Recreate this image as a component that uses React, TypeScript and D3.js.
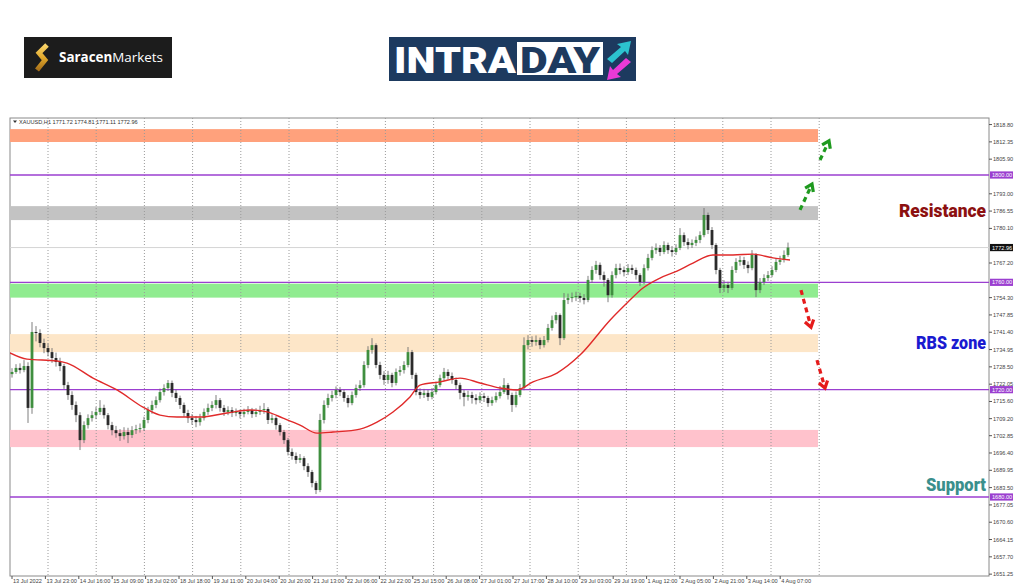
import React from 'react';
import * as d3 from 'd3';

// ---------- DATA ----------
const firstOpen = 1725.8;
const closes = [
  1726.6,1728.1,1727.3,1728.8,1713.2,1741.5,1741.1,1737.4,1735.5,1734.0,
  1731.8,1730.3,1728.8,1721.7,1718.0,1714.3,1710.5,1701.2,1706.8,1709.4,
  1710.5,1711.7,1713.2,1710.5,1706.8,1704.9,1703.8,1702.7,1704.2,1703.1,
  1704.9,1705.3,1705.7,1708.7,1712.4,1714.3,1716.1,1719.1,1720.6,1722.5,
  1718.8,1716.9,1714.3,1711.3,1709.4,1708.7,1707.9,1709.4,1711.7,1713.2,
  1714.3,1716.1,1713.2,1711.7,1712.4,1711.3,1711.7,1710.9,1711.7,1712.4,
  1710.9,1711.7,1712.4,1712.8,1708.7,1709.4,1706.8,1704.2,1701.2,1696.8,
  1695.3,1693.8,1694.5,1691.5,1689.3,1685.2,1682.6,1708.7,1714.3,1716.9,
  1718.0,1719.9,1719.1,1716.9,1715.0,1718.0,1720.6,1721.7,1729.2,1734.8,
  1736.6,1729.2,1725.5,1723.6,1725.5,1722.5,1726.6,1727.3,1729.2,1734.0,
  1725.5,1719.1,1718.0,1718.8,1717.3,1719.1,1721.7,1724.3,1726.6,1725.1,
  1723.6,1721.7,1718.8,1717.3,1718.0,1716.9,1716.1,1717.6,1716.9,1715.0,
  1716.1,1717.6,1719.1,1721.7,1718.0,1714.3,1718.0,1720.6,1736.6,1738.5,
  1737.8,1738.5,1736.6,1738.5,1743.0,1745.9,1747.8,1739.2,1753.4,1754.2,
  1754.5,1754.9,1754.2,1753.4,1760.9,1764.6,1766.5,1762.7,1760.9,1755.2,
  1762.7,1765.3,1764.6,1763.8,1765.3,1764.6,1762.7,1760.1,1765.3,1769.1,
  1772.0,1772.8,1771.3,1773.9,1772.0,1771.3,1772.8,1777.6,1775.0,1773.9,
  1774.7,1775.8,1777.6,1785.1,1779.5,1773.9,1764.6,1757.9,1759.0,1757.9,
  1764.6,1767.6,1768.3,1766.5,1765.3,1770.2,1757.1,1760.1,1761.6,1762.7,
  1764.6,1767.6,1768.3,1770.2,1772.96,
];
const highs = [
  1728.0,1729.5,1729.8,1731.0,1730.2,1745.2,1743.7,1742.5,1739.0,1737.2,
  1735.5,1733.8,1731.9,1729.6,1722.9,1719.4,1715.6,1711.6,1708.2,1710.8,
  1712.0,1713.5,1716.1,1714.4,1711.3,1708.0,1706.5,1705.3,1706.0,1705.8,
  1706.4,1706.9,1707.4,1709.9,1713.6,1715.9,1717.5,1720.4,1722.0,1723.6,
  1723.4,1720.0,1717.8,1715.2,1712.5,1710.9,1710.2,1711.0,1713.0,1714.8,
  1715.7,1718.0,1716.9,1714.3,1713.8,1713.5,1713.0,1712.6,1712.9,1713.9,
  1713.2,1713.1,1714.0,1715.0,1713.5,1710.8,1710.1,1707.6,1705.0,1702.0,
  1698.1,1696.6,1696.0,1695.2,1692.6,1690.1,1686.0,1711.0,1716.0,1718.5,
  1719.6,1721.2,1721.0,1720.0,1718.0,1719.3,1721.9,1723.5,1730.6,1736.2,
  1739.2,1737.3,1730.4,1726.9,1727.0,1726.3,1727.9,1728.8,1730.6,1735.9,
  1734.8,1726.3,1720.5,1720.3,1719.9,1720.6,1723.0,1725.6,1728.1,1727.6,
  1726.4,1724.5,1722.6,1719.9,1719.6,1719.2,1718.3,1719.0,1718.8,1717.7,
  1717.4,1719.0,1721.4,1724.3,1722.5,1718.9,1719.3,1722.1,1739.5,1740.3,
  1739.9,1740.2,1739.4,1740.0,1744.5,1747.6,1748.9,1748.4,1756.0,1755.8,
  1756.2,1756.5,1756.1,1755.6,1762.4,1766.0,1768.0,1767.4,1764.0,1761.6,
  1764.1,1766.9,1767.0,1765.9,1766.8,1766.6,1765.5,1763.4,1766.7,1770.6,
  1773.4,1774.5,1773.9,1775.3,1774.8,1773.5,1774.2,1780.2,1778.6,1776.4,
  1776.0,1777.1,1779.0,1787.7,1786.0,1780.6,1774.6,1765.4,1760.8,1760.2,
  1766.0,1769.0,1769.8,1769.5,1767.8,1772.0,1770.9,1761.6,1763.0,1764.2,
  1766.0,1769.0,1769.9,1771.9,1774.81,
];
const lows = [
  1724.5,1725.9,1726.0,1726.5,1707.6,1711.0,1738.0,1735.8,1733.6,1732.4,
  1730.0,1728.6,1726.9,1720.3,1716.2,1712.5,1707.9,1697.5,1700.1,1705.5,
  1708.1,1709.0,1710.6,1709.2,1705.2,1703.0,1702.1,1700.9,1701.4,1700.1,
  1702.0,1703.5,1704.0,1704.6,1707.5,1711.0,1713.1,1715.2,1717.8,1719.5,
  1717.2,1715.4,1712.8,1709.9,1707.6,1706.9,1706.0,1706.6,1708.5,1710.6,
  1712.0,1713.0,1711.8,1710.2,1710.5,1709.8,1710.1,1709.3,1709.7,1710.8,
  1709.5,1709.8,1710.6,1711.0,1707.2,1707.5,1705.1,1702.9,1699.8,1695.5,
  1693.9,1692.4,1692.7,1690.0,1687.5,1683.6,1681.1,1681.8,1707.4,1713.2,
  1715.6,1716.8,1717.6,1715.5,1713.4,1714.2,1717.0,1719.5,1720.8,1728.0,
  1733.4,1728.0,1723.9,1721.8,1722.2,1720.9,1721.6,1725.2,1726.0,1728.3,
  1724.0,1717.9,1716.6,1716.9,1715.8,1716.4,1718.2,1720.9,1723.5,1723.8,
  1722.2,1720.1,1716.4,1713.8,1715.9,1714.8,1714.5,1715.0,1715.4,1713.6,
  1714.0,1715.2,1716.7,1718.4,1716.3,1711.7,1713.4,1717.2,1719.8,1735.0,
  1736.0,1736.4,1735.1,1735.7,1737.6,1742.0,1744.6,1736.6,1738.5,1751.9,
  1752.6,1753.0,1752.5,1751.8,1752.6,1759.8,1763.2,1761.0,1758.4,1752.6,
  1754.3,1761.5,1763.0,1762.2,1762.7,1763.1,1761.0,1758.6,1759.3,1764.4,
  1768.2,1770.6,1769.8,1770.5,1770.6,1769.6,1770.2,1772.0,1773.6,1772.3,
  1772.8,1773.5,1774.6,1776.8,1778.0,1772.4,1763.0,1756.0,1756.4,1756.0,
  1757.2,1763.5,1766.2,1765.0,1763.4,1764.5,1754.5,1756.0,1759.0,1760.5,
  1761.9,1763.8,1766.5,1767.4,1769.5,
];

// moving average (red line): bar position and value
const maBars = [-0.5,3.75,11.25,13.75,20.25,26.25,32.75,37,41.25,47,53.75,59.5,63.75,67.75,72,76.25,80.25,87,91.25,95.25,99.5,102,107,112,117,122,126.25,130.25,136.25,142,149.5,153.75,157.75,162,166.25,170.25,175.25,180.25,185.25,190.25,194.5];
const maVals = [1733.7,1731.4,1730.7,1729.9,1724.3,1719.9,1713.5,1710.5,1709.8,1709.8,1711.3,1712.4,1711.7,1709.4,1706.8,1703.8,1704.2,1705.3,1707.9,1711.7,1717.3,1721.7,1722.9,1724.3,1722.5,1720.6,1719.9,1722.9,1726.2,1732.9,1745.9,1752.3,1757.9,1761.6,1764.2,1767.2,1770.2,1770.2,1770.5,1769.1,1768.3];

const yTickVals = [1818.80,1812.35,1805.90,1793.00,1786.55,1780.10,1767.20,1754.30,1747.85,1741.40,1734.95,1728.50,1722.05,1715.60,1709.20,1702.85,1696.40,1689.95,1683.50,1677.05,1670.60,1664.15,1657.70,1651.25];
const levelLines = [1800, 1760, 1720, 1680];
const currentPrice = 1772.96;
const xLabels = ['13 Jul 2022','13 Jul 23:00','14 Jul 16:00','15 Jul 09:00','18 Jul 02:00','18 Jul 18:00','19 Jul 11:00','20 Jul 04:00','20 Jul 20:00','21 Jul 13:00','22 Jul 06:00','22 Jul 22:00','25 Jul 15:00','26 Jul 08:00','27 Jul 01:00','27 Jul 17:00','28 Jul 10:00','29 Jul 03:00','29 Jul 19:00','1 Aug 12:00','2 Aug 05:00','2 Aug 21:00','3 Aug 14:00','4 Aug 07:00'];

const zoneTop = [1817.1, 1788.4, 1759.5, 1740.7, 1705.0];
const zoneBottom = [1812.3, 1783.2, 1754.3, 1734.0, 1698.6];
const zoneColors = ['#ffa17c', '#c3c3c3', '#90ec90', '#fde6c8', '#ffc2cc'];
const zoneEndBar = 201.5;

const arrowColors = ['#1f9a1f', '#1f9a1f', '#e51b1b', '#e51b1b'];
const arrowFromBar = [197, 202, 197.25, 201.25];
const arrowFromVal = [1787.0, 1805.6, 1757.1, 1731.0];
const arrowToBar = [200, 204.25, 199.75, 203.25];
const arrowToVal = [1796.6, 1812.7, 1743.3, 1720.6];

const annotationTexts = ['Resistance', 'RBS zone', 'Support'];
const annotationColors = ['#8c1010', '#1a1ad0', '#3a8f8c'];
const annotationVals = [1784.2, 1735.1, 1682.3];
const annotationWidths = [87, 70, 60];

const headerText = 'XAUUSD,H1  1771.72 1774.81 1771.11 1772.96';

// ---------- LAYOUT ----------
const W = 1024, H = 587;
const L = 10, R = 989, T = 118, B = 576;
const NARROW = "'Liberation Sans Narrow', 'Arial Narrow', 'Liberation Sans', sans-serif";

export default function App() {
  const x = d3.scaleLinear().domain([-0.5, 244.25]).range([L, R]);
  const y = d3.scaleLinear().domain([1680, 1800]).range([497, 175]);

  const bars = closes.map((c, i) => {
    const o = i === 0 ? firstOpen : closes[i - 1];
    return { i, o, c, h: highs[i], l: lows[i] };
  });

  const maLine = d3.line<number>()
    .x((_, i) => x(maBars[i]))
    .y((d) => y(d))
    .curve(d3.curveMonotoneX)(maVals) as string;

  const gridBars = d3.range(17).map((k) => 9 + k * 12.05);
  const labelBars = xLabels.map((_, k) => k * 8.35);

  return (
    <svg width={W} height={H} style={{ position: 'absolute', left: 0, top: 0, background: '#fff' }}>
      <defs>
        <clipPath id="plot"><rect x={L} y={T} width={R - L} height={B - T} /></clipPath>
        <linearGradient id="gold" x1="0" y1="0" x2="0" y2="1">
          <stop offset="0" stopColor="#f9d46a" />
          <stop offset="0.5" stopColor="#e2a92c" />
          <stop offset="1" stopColor="#a7701a" />
        </linearGradient>
      </defs>
      <rect x={0} y={0} width={W} height={H} fill="#fff" />

      {/* Saracen Markets logo */}
      <rect x={24} y={37} width={148} height={41} fill="#1c1c1c" />
      <polyline points="47,45 39,53 45,60 37,70" fill="none" stroke="url(#gold)" strokeWidth={5} strokeLinejoin="miter" />
      <text x={59} y={62} fill="#fff" fontFamily="'Open Sans', sans-serif" fontSize={13.5} textLength={104} lengthAdjust="spacingAndGlyphs">
        <tspan fontWeight={700}>Saracen</tspan><tspan fontWeight={400}>Markets</tspan>
      </text>

      {/* INTRADAY logo */}
      <rect x={389} y={37} width={247} height={44} fill="#1d3a5f" />
      <text x={394} y={73} fill="#fff" fontFamily="Roboto, 'Open Sans', sans-serif" fontWeight={900} fontSize={36} textLength={122} lengthAdjust="spacingAndGlyphs">INTRA</text>
      <rect x={517} y={42} width={86} height={33} fill="#fff" />
      <text x={520} y={73} fill="#1d3a5f" fontFamily="Roboto, 'Open Sans', sans-serif" fontWeight={900} fontSize={36} textLength={80} lengthAdjust="spacingAndGlyphs">DAY</text>
      <path d="M607 59 L621 47 L617 44 L631 41 L628 55 L625 51 L612 63 Z" fill="#2cc3cf" />
      <path d="M631 62 L617 74 L621 77 L607 80 L610 66 L613 70 L626 58 Z" fill="#e93ad6" />

      {/* chart frame */}
      <rect x={L} y={T} width={R - L} height={B - T} fill="#fff" stroke="#8a8a8a" strokeWidth={1} />

      <g clipPath="url(#plot)">
        {zoneTop.map((t, k) => (
          <rect key={'z' + k} x={L} y={y(t)} width={x(zoneEndBar) - L} height={y(zoneBottom[k]) - y(t)} fill={zoneColors[k]} />
        ))}
        {gridBars.map((g, k) => (
          <line key={'g' + k} x1={x(g)} x2={x(g)} y1={T} y2={B} stroke="#9a9a9a" strokeWidth={1} strokeDasharray="1,2" />
        ))}
        <line x1={L} x2={R} y1={y(currentPrice)} y2={y(currentPrice)} stroke="#d4d4d4" strokeWidth={1} />
        {levelLines.map((v) => (
          <line key={'lv' + v} x1={L} x2={R} y1={y(v)} y2={y(v)} stroke="#9b3fd0" strokeWidth={1.4} />
        ))}
        {bars.map((b) => {
          const cx = x(b.i);
          const up = b.c >= b.o;
          const top = y(Math.max(b.o, b.c));
          const bot = y(Math.min(b.o, b.c));
          return (
            <g key={'c' + b.i}>
              <line x1={cx} x2={cx} y1={y(b.h)} y2={y(b.l)} stroke="#6f6f6f" strokeWidth={0.9} />
              <rect x={cx - 1.4} y={top} width={2.8} height={Math.max(1, bot - top)} fill={up ? '#3f8f3f' : '#2b2b2b'} />
            </g>
          );
        })}
        <path d={maLine} fill="none" stroke="#e02a2a" strokeWidth={1.4} />
      </g>

      {/* header */}
      <path d={`M13 120.5 L17 120.5 L15 123 Z`} fill="#333" />
      <text x={19} y={124} fontFamily={NARROW} fontSize={5.6} fill="#333">{headerText}</text>

      {/* arrows */}
      {arrowColors.map((col, k) => {
        const x1 = x(arrowFromBar[k]), y1 = y(arrowFromVal[k]);
        const x2 = x(arrowToBar[k]), y2 = y(arrowToVal[k]);
        const ang = Math.atan2(y2 - y1, x2 - x1);
        const hl = 8;
        const a1 = ang + Math.PI - 0.6, a2 = ang + Math.PI + 0.6;
        return (
          <g key={'a' + k}>
            <line x1={x1} y1={y1} x2={x2 - Math.cos(ang) * 3} y2={y2 - Math.sin(ang) * 3} stroke={col} strokeWidth={3.2} strokeDasharray="5,4" />
            <polyline points={`${x2 + Math.cos(a1) * hl},${y2 + Math.sin(a1) * hl} ${x2},${y2} ${x2 + Math.cos(a2) * hl},${y2 + Math.sin(a2) * hl}`} fill="none" stroke={col} strokeWidth={3.2} />
          </g>
        );
      })}

      {/* annotations */}
      {annotationTexts.map((t, k) => (
        <text key={'an' + k} x={986 - annotationWidths[k]} y={y(annotationVals[k])} fill={annotationColors[k]}
          fontFamily="Roboto, sans-serif" fontWeight={900} fontSize={17.5}
          textLength={annotationWidths[k]} lengthAdjust="spacingAndGlyphs">{t}</text>
      ))}

      {/* y axis */}
      {yTickVals.map((v) => (
        <g key={'yt' + v}>
          <line x1={R} x2={R + 3} y1={y(v)} y2={y(v)} stroke="#555" />
          <text x={R + 4} y={y(v) + 2} fontFamily={NARROW} fontSize={5.6} fill="#444">{v.toFixed(2)}</text>
        </g>
      ))}
      {levelLines.map((v) => (
        <g key={'yl' + v}>
          <rect x={R + 1} y={y(v) - 3.6} width={23} height={7.2} fill="#9b3fd0" />
          <text x={R + 3} y={y(v) + 2} fontFamily={NARROW} fontSize={5.6} fill="#fff">{v.toFixed(2)}</text>
        </g>
      ))}
      <rect x={R + 1} y={y(currentPrice) - 3.6} width={23} height={7.2} fill="#111" />
      <text x={R + 3} y={y(currentPrice) + 2} fontFamily={NARROW} fontSize={5.6} fill="#fff">{currentPrice.toFixed(2)}</text>

      {/* x axis */}
      {xLabels.map((lab, k) => (
        <g key={'xl' + k}>
          <line x1={x(labelBars[k])} x2={x(labelBars[k])} y1={B} y2={B + 3} stroke="#555" />
          <text x={x(labelBars[k]) + 1} y={583} fontFamily={NARROW} fontSize={5.6} fill="#444">{lab}</text>
        </g>
      ))}
    </svg>
  );
}
